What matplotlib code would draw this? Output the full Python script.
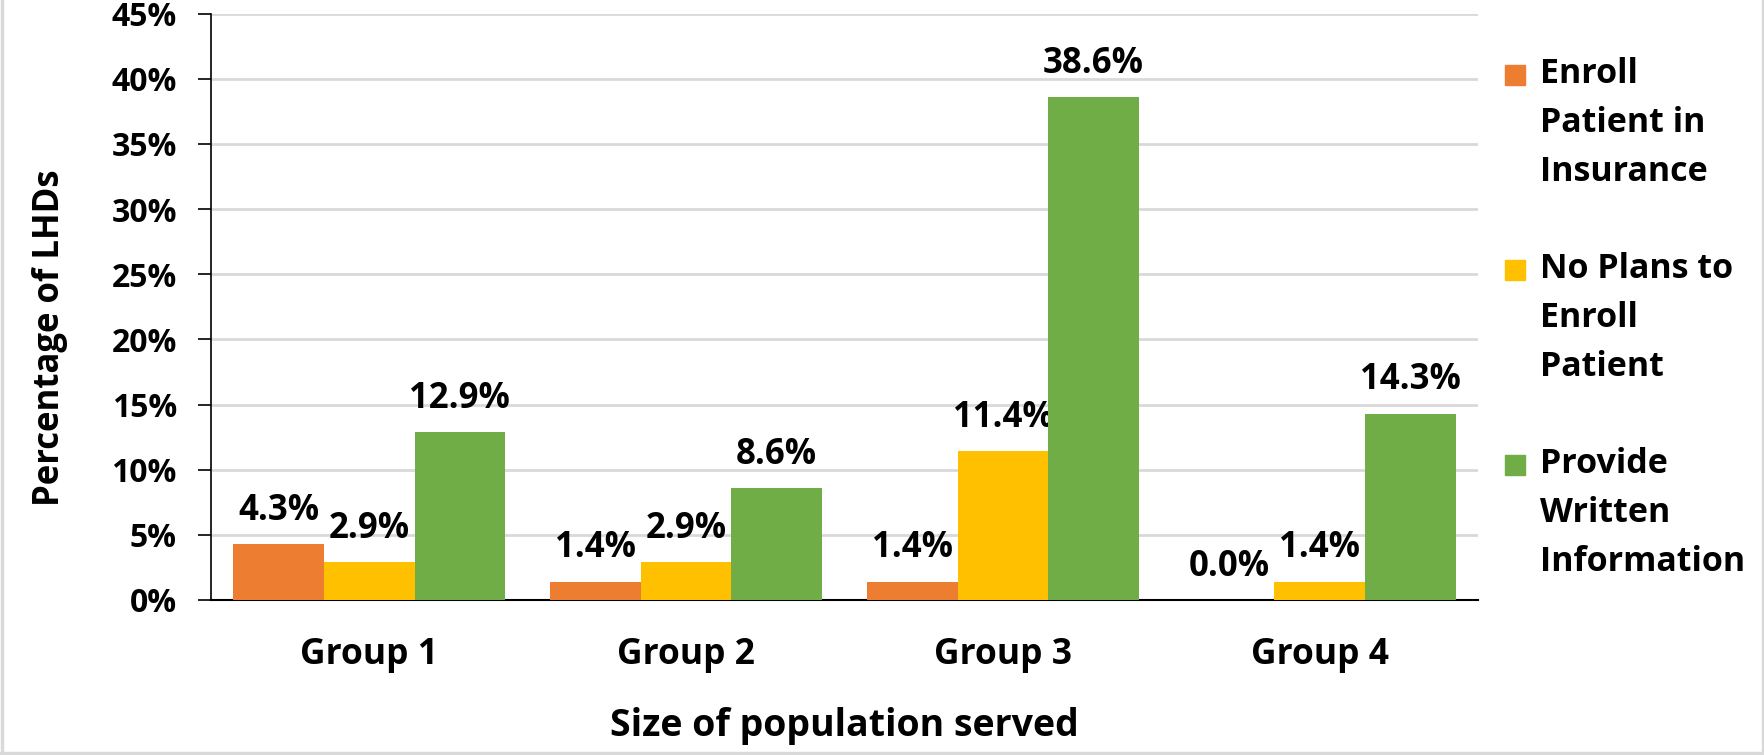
import numpy as np
import matplotlib.pyplot as plt
from matplotlib.patches import Rectangle
from matplotlib.lines import Line2D

# Доля LHD по размеру обслуживаемого населения
groups = ["Group 1", "Group 2", "Group 3", "Group 4"]
series_names = ["Enroll\nPatient in\nInsurance",
                "No Plans to\nEnroll\nPatient",
                "Provide\nWritten\nInformation"]
enroll = [4.3, 1.4, 1.4, 0.0]
no_plans = [2.9, 2.9, 11.4, 1.4]
written = [12.9, 8.6, 38.6, 14.3]
colors = ["#ED7D31", "#FFC000", "#70AD47"]

plt.rcParams['font.family'] = ['Open Sans', 'DejaVu Sans']
plt.rcParams['font.weight'] = 'bold'

fig = plt.figure(figsize=(17.65, 7.55), dpi=100)
ax = fig.add_axes([0.1195, 0.2053, 0.718, 0.7767])

x = np.arange(len(groups))
w = 0.286
for i, (vals, c) in enumerate(zip([enroll, no_plans, written], colors)):
    bars = ax.bar(x + (i - 1) * w, vals, w, color=c, zorder=3)
    for b, v in zip(bars, vals):
        ax.annotate(f"{v:.1f}%", (b.get_x() + b.get_width() / 2, v),
                    xytext=(0, 11), textcoords="offset points",
                    ha="center", va="bottom", fontsize=25, fontweight="bold")

ax.set_xlim(-0.5, 3.5)
ax.set_ylim(0, 45)
ax.set_yticks(np.arange(0, 46, 5))
ax.set_yticklabels([f"{t}%" for t in range(0, 46, 5)])
ax.set_xticks(x)
ax.set_xticklabels(groups)
ax.tick_params(axis="y", direction="out", length=9.5, width=1.2, pad=15, labelsize=23)
ax.tick_params(axis="x", length=0, pad=27, labelsize=25.5)
ax.yaxis.grid(True, color="#D9D9D9", linewidth=2, zorder=0)
for s in ["top", "right"]:
    ax.spines[s].set_visible(False)
ax.spines["left"].set_linewidth(1.2)
ax.spines["bottom"].set_linewidth(1.5)

ax.set_ylabel("Percentage of LHDs", fontsize=25, fontweight="bold")
ax.yaxis.set_label_coords(-0.113, 0.448)
ax.set_xlabel("Size of population served", fontsize=27, fontweight="bold", labelpad=24)

# легенда: квадрат на уровне первой строки подписи
for k, (name, c) in enumerate(zip(series_names, colors)):
    y0 = 1 - (75 + 195 * k) / 755
    fig.patches.append(Rectangle((1505 / 1765, y0 - 10 / 755), 20 / 1765, 20 / 755,
                                 transform=fig.transFigure, color=c))
    fig.text(1540 / 1765, y0 + 18 / 755, name, fontsize=24.5, fontweight="bold",
             ha="left", va="top", linespacing=1.57)

# рамка вокруг рисунка (сверху обрезана)
for xs, ys in [([0.001, 0.001], [0, 1]), ([0.999, 0.999], [0, 1]), ([0, 1], [0.002, 0.002])]:
    fig.add_artist(Line2D(xs, ys, transform=fig.transFigure, color="#D9D9D9", linewidth=2.5))

fig.savefig("out.png", dpi=100)
